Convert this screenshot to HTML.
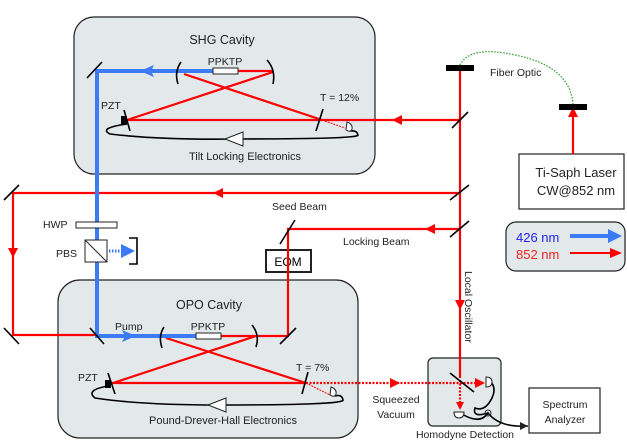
<!DOCTYPE html>
<html><head><style>body{margin:0;background:#fff}svg{display:block}text{font-family:"Liberation Sans",sans-serif}</style></head><body>
<svg width="627" height="442" viewBox="0 0 627 442" xmlns="http://www.w3.org/2000/svg">
<!-- boxes -->
<rect x="74" y="17" width="301" height="157" rx="20" fill="#e3e9ea" stroke="#222" stroke-width="1.2"/>
<rect x="58" y="280" width="300" height="158" rx="22" fill="#e3e9ea" stroke="#222" stroke-width="1.2"/>
<rect x="428" y="358" width="73" height="68" rx="5" fill="#e3e9ea" stroke="#222" stroke-width="1.2"/>
<rect x="506" y="222" width="119" height="49" rx="10" fill="#e3e9ea" stroke="#222" stroke-width="1.2"/>
<rect x="519" y="154" width="105" height="55" fill="#fff" stroke="#222" stroke-width="1.2"/>
<rect x="529" y="388" width="71" height="45" fill="#fff" stroke="#222" stroke-width="1.2"/>
<rect x="266" y="250" width="45" height="22" fill="#fff" stroke="#222" stroke-width="2"/>
<text x="288" y="266" font-size="12" text-anchor="middle">EOM</text>

<!-- red beams -->
<g stroke="#f00" stroke-width="2.2" fill="none">
<line x1="460" y1="68" x2="460" y2="378"/>
<line x1="573" y1="154" x2="573" y2="110"/>
<line x1="460" y1="120" x2="127" y2="120"/>
<polyline points="184,74 322,120"/>
<polyline points="273,72 127,120"/>
<line x1="238" y1="71" x2="273" y2="71"/>
<polyline points="460,193 13,193 13,335 97,335"/>
<polyline points="460,229 288,229 288,336 221,336"/>
<line x1="166" y1="338" x2="306" y2="383"/>
<line x1="256" y1="336" x2="113" y2="383"/>
<line x1="110" y1="383" x2="306" y2="383"/>
</g>
<g stroke="#f00" stroke-width="2.2" stroke-dasharray="2,1.5">
<line x1="306" y1="383" x2="480" y2="383"/>
<line x1="460" y1="380" x2="460" y2="402"/>
</g>
<g fill="#f00">
<path d="M392,120 l10,-5 v10z"/>
<path d="M213,193 l10,-5 v10z"/>
<path d="M13,258 l-5,-10 h10z"/>
<path d="M425,229 l10,-5 v10z"/>
<path d="M460,310 l-5,-10 h10z"/>
<path d="M573,107 l-5,10 h10z"/>
<path d="M400,383 l-10,-5 v10z"/>
<path d="M485,383 l-10,-5 v10z"/>
<path d="M460,410 l-4,-8 h8z"/>
</g>
<line x1="322" y1="120" x2="345" y2="128" stroke="#f00" stroke-width="1" stroke-dasharray="2,1"/>
<line x1="306" y1="383" x2="330" y2="395" stroke="#f00" stroke-width="1" stroke-dasharray="2,1"/>

<!-- blue -->
<g stroke="#3b7bf5" stroke-width="4" fill="none">
<polyline points="213,71 97,71 97,336 196,336"/>
</g>
<path d="M140,71 l14,-6 l-3,6 l3,6z" fill="#3b7bf5"/>
<path d="M136,336 l-14,-6 l3,6 l-3,6z" fill="#3b7bf5"/>
<line x1="109" y1="251" x2="122" y2="251" stroke="#3b7bf5" stroke-width="3" stroke-dasharray="1.5,1.5"/>
<path d="M135,251 l-14,-7 v14z" fill="#3b7bf5"/>
<path d="M129,238 h8 v26 h-8" fill="none" stroke="#000" stroke-width="1.6"/>

<!-- crystals -->
<rect x="213" y="68" width="25" height="6" fill="#fff" stroke="#222"/>
<rect x="196" y="333" width="25" height="6" fill="#fff" stroke="#222"/>
<rect x="76" y="222" width="41" height="6" fill="#fff" stroke="#222"/>
<rect x="85" y="240" width="22" height="22" fill="#fff" stroke="#222"/>
<line x1="85" y1="240" x2="107" y2="262" stroke="#222"/>

<!-- mirrors -->
<g stroke="#000" stroke-width="1.6" fill="none">
<line x1="87" y1="78" x2="102" y2="62"/>
<line x1="4" y1="200" x2="19" y2="185"/>
<line x1="4" y1="328" x2="19" y2="344"/>
<line x1="90" y1="328" x2="104" y2="344"/>
<line x1="280" y1="244" x2="295" y2="220"/>
<line x1="280" y1="344" x2="296" y2="328"/>
<line x1="452" y1="128" x2="468" y2="112"/>
<line x1="450" y1="200" x2="469" y2="185"/>
<line x1="450" y1="237" x2="469" y2="221"/>
<line x1="124" y1="110" x2="130" y2="131"/>
<line x1="316" y1="131" x2="323" y2="109"/>
<line x1="108" y1="373" x2="115" y2="394"/>
<line x1="302" y1="394" x2="308" y2="372"/>
<line x1="450" y1="373" x2="474" y2="392"/>
<path d="M181,62 Q174,72 178,84"/><path d="M267,60 Q276,70 273,84"/>
<path d="M164,327 Q158,336 162,348"/><path d="M252,325 Q260,335 256,347"/>
<path d="M127,124 Q98,128 110,134 Q160,140 235,139 Q360,139 358,135 Q357,130 350,131"/>
<path d="M108,386 Q85,390 95,398 Q140,405 218,405 Q345,405 343,400 Q342,394 335,396"/>
<path d="M486,378 Q498,385 492,398 Q485,412 475,408 Q472,418 488,413"/>
<path d="M462,414 Q480,425 488,413 Q500,428 528,426"/>
</g>
<path d="M528,426 l-8,-4 v8z" fill="#222"/>
<circle cx="488" cy="413" r="3" fill="none" stroke="#222"/>
<path d="M486,377 q6,0 6,5 q0,5 -6,5z" fill="#fff" stroke="#222"/>
<path d="M454,412 q0,6 5,6 q5,0 5,-6z" fill="#fff" stroke="#222"/>
<path d="M347,122 q6,2 5,7 q-1,4 -6,1z" fill="#fff" stroke="#222"/>
<path d="M331,387 q6,2 5,7 q-1,4 -6,1z" fill="#fff" stroke="#222"/>
<path d="M225,139 l18,-7 v14z" fill="#fff" stroke="#222"/>
<path d="M208,405 l18,-7 v14z" fill="#fff" stroke="#222"/>
<rect x="121" y="116" width="6" height="8" fill="#000"/>
<rect x="105" y="380" width="6" height="8" fill="#000"/>
<rect x="446" y="65" width="28" height="6" fill="#000"/>
<rect x="559" y="104" width="28" height="6" fill="#000"/>
<path d="M460,65 Q470,45 515,55 Q570,66 573,104" fill="none" stroke="#2a9a2a" stroke-width="1.2" stroke-dasharray="1.5,1.5"/>

<!-- legend -->
<line x1="570" y1="236" x2="610" y2="236" stroke="#3b7bf5" stroke-width="4"/>
<path d="M622,236 l-14,-7 v14z" fill="#3b7bf5"/>
<line x1="570" y1="253" x2="612" y2="253" stroke="#f00" stroke-width="2"/>
<path d="M622,253 l-12,-5 v10z" fill="#f00"/>
<text x="516" y="242" font-size="13" fill="#2222ee">426 nm</text>
<text x="516" y="259" font-size="13" fill="#ee2222">852 nm</text>

<!-- labels -->
<g font-size="10.5" fill="#222">
<text x="222" y="44" font-size="12.5" text-anchor="middle">SHG Cavity</text>
<text x="209" y="309" font-size="12.5" text-anchor="middle">OPO Cavity</text>
<text x="225" y="65" text-anchor="middle">PPKTP</text>
<text x="208" y="330" text-anchor="middle">PPKTP</text>
<text x="101" y="109">PZT</text>
<text x="78" y="381">PZT</text>
<text x="320" y="101">T = 12%</text>
<text x="296" y="371">T = 7%</text>
<text x="245" y="160" text-anchor="middle" font-size="11">Tilt Locking Electronics</text>
<text x="223" y="424" text-anchor="middle" font-size="11">Pound-Drever-Hall Electronics</text>
<text x="115" y="330">Pump</text>
<text x="43" y="228">HWP</text>
<text x="56" y="257">PBS</text>
<text x="272" y="210">Seed Beam</text>
<text x="343" y="245">Locking Beam</text>
<text x="490" y="76">Fiber Optic</text>
<text x="396" y="403" text-anchor="middle">Squeezed</text>
<text x="396" y="418" text-anchor="middle">Vacuum</text>
<text x="465" y="438" text-anchor="middle">Homodyne Detection</text>
<text x="565" y="408" text-anchor="middle">Spectrum</text>
<text x="565" y="423" text-anchor="middle">Analyzer</text>
<text transform="translate(465,271) rotate(90)">Local Oscillator</text>
</g>
<text x="576" y="177" font-size="13" text-anchor="middle" fill="#222">Ti-Saph Laser</text>
<text x="576" y="195" font-size="13" text-anchor="middle" fill="#222">CW@852 nm</text>
</svg>
</body></html>
